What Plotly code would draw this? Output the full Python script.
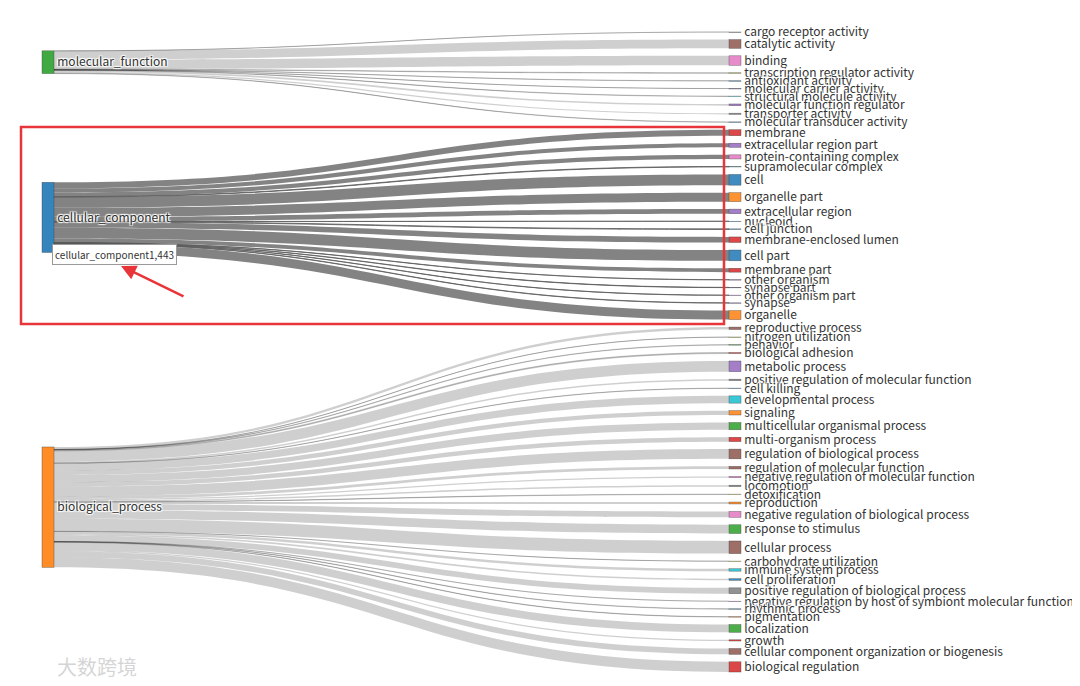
import plotly.graph_objects as go

# ---------------- data ----------------
roots = ["molecular_function", "cellular_component", "biological_process"]
root_colors = ["#2ca02c", "#1f77b4", "#ff7f0e"]

mf_terms = ["cargo receptor activity", "catalytic activity", "binding",
            "transcription regulator activity", "antioxidant activity",
            "molecular carrier activity", "structural molecule activity",
            "molecular function regulator", "transporter activity",
            "molecular transducer activity"]
mf_values = [2, 180, 195, 10, 5, 2, 8, 35, 25, 6]
mf_colors = ["#7f7f7f", "#8c564b", "#e377c2", "#bcbd22", "#1f77b4",
             "#9467bd", "#17becf", "#9467bd", "#7f7f7f", "#1f77b4"]

cc_terms = ["membrane", "extracellular region part", "protein-containing complex",
            "supramolecular complex", "cell", "organelle part", "extracellular region",
            "nucleoid", "cell junction", "membrane-enclosed lumen", "cell part",
            "membrane part", "other organism", "synapse part", "other organism part",
            "synapse", "organelle"]
cc_values = [125, 85, 85, 10, 221, 185, 95, 3, 12, 115, 222, 80, 4, 6, 4, 6, 185]
cc_colors = ["#d62728", "#9467bd", "#e377c2", "#17becf", "#1f77b4", "#ff7f0e",
             "#9467bd", "#1f77b4", "#1f77b4", "#d62728", "#1f77b4", "#d62728",
             "#9467bd", "#9467bd", "#9467bd", "#9467bd", "#ff7f0e"]

bp_terms = ["reproductive process", "nitrogen utilization", "behavior",
            "biological adhesion", "metabolic process",
            "positive regulation of molecular function", "cell killing",
            "developmental process", "signaling", "multicellular organismal process",
            "multi-organism process", "regulation of biological process",
            "regulation of molecular function", "negative regulation of molecular function",
            "locomotion", "detoxification", "reproduction",
            "negative regulation of biological process", "response to stimulus",
            "cellular process", "carbohydrate utilization", "immune system process",
            "cell proliferation", "positive regulation of biological process",
            "negative regulation by host of symbiont molecular function",
            "rhythmic process", "pigmentation", "localization", "growth",
            "cellular component organization or biogenesis", "biological regulation"]
bp_values = [50, 3, 8, 20, 220, 30, 5, 150, 90, 150, 90, 200, 55, 25, 30, 8, 40,
             120, 180, 260, 3, 50, 35, 120, 2, 8, 8, 160, 25, 120, 210]
bp_colors = ["#8c564b", "#bcbd22", "#2ca02c", "#d62728", "#9467bd", "#7f7f7f",
             "#1f77b4", "#17becf", "#ff7f0e", "#2ca02c", "#d62728", "#8c564b",
             "#8c564b", "#e377c2", "#7f7f7f", "#bcbd22", "#ff7f0e", "#e377c2",
             "#2ca02c", "#8c564b", "#bcbd22", "#17becf", "#1f77b4", "#7f7f7f",
             "#9467bd", "#1f77b4", "#ff7f0e", "#2ca02c", "#d62728", "#8c564b",
             "#d62728"]

highlight_root = "cellular_component"
tooltip_text = "cellular_component1,443"
watermark_text = "大数跨境"


def rgba(hex_color, a):
    h = hex_color.lstrip("#")
    r, g, b = int(h[0:2], 16), int(h[2:4], 16), int(h[4:6], 16)
    return f"rgba({r},{g},{b},{a})"


# ---------------- geometry (page pixels; page has an 8px body margin) ----------------
W, H = 1080, 686
OFF = 8
TOP, BOT = 32, 672            # vertical extent of the node columns
PAD = 7.5                     # gap between nodes
LEFT_CX, RIGHT_CX = 48, 735   # node centres
THICK = 12

groups = [(mf_terms, mf_values, mf_colors),
          (cc_terms, cc_values, cc_colors),
          (bp_terms, bp_values, bp_colors)]

all_vals = mf_values + cc_values + bp_values
n_terms = len(all_vals)
span = BOT - TOP
ky = (span - (n_terms - 1) * PAD) / sum(all_vals)

labels, colors, node_x, node_y = [], [], [], []
sources, targets, values, link_colors = [], [], [], []

# roots first
for r, c in zip(roots, root_colors):
    labels.append(r)
    colors.append(rgba(c, 0.9))
    node_x.append((LEFT_CX - OFF) / W)
    node_y.append(0.5)  # placeholder, set below

cum, k = 0.0, 0
for ri, (terms, vals, cols) in enumerate(groups):
    wsum = 0.0
    for t, v, c in zip(terms, vals, cols):
        centre_px = k * PAD + ky * (cum + v / 2)
        wsum += centre_px * v
        labels.append(t)
        colors.append(rgba(c, 0.85))
        node_x.append((RIGHT_CX - OFF) / W)
        node_y.append(centre_px / span)
        sources.append(ri)
        targets.append(len(labels) - 1)
        values.append(v)
        link_colors.append("rgba(90,90,90,0.75)" if roots[ri] == highlight_root
                           else "rgba(0,0,0,0.19)")
        cum += v
        k += 1
    node_y[ri] = (wsum / sum(vals)) / span

# invisible helper node so that the term column is not the last layer
labels.append("")
colors.append("rgba(0,0,0,0)")
node_x.append(0.998)
node_y.append(0.999)
sources.append(len(labels) - 2)
targets.append(len(labels) - 1)
values.append(0.001)
link_colors.append("rgba(0,0,0,0)")

fig = go.Figure(go.Sankey(
    arrangement="fixed",
    domain=dict(x=[0, 1], y=[1 - (BOT - OFF) / H, 1 - (TOP - OFF) / H]),
    node=dict(label=labels, color=colors, pad=PAD, thickness=THICK, align="left",
              x=node_x, y=node_y,
              line=dict(color="rgba(60,60,60,0.7)", width=0.5)),
    link=dict(source=sources, target=targets, value=values, color=link_colors),
    textfont=dict(family="Noto Sans CJK SC", size=12, color="#333333"),
    hoverinfo="none",
))


def px(xp):
    return (xp - OFF) / W


def py(yp):
    return 1 - (yp - OFF) / H


fig.update_layout(
    width=W, height=H,
    margin=dict(l=0, r=0, t=0, b=0),
    paper_bgcolor="white", plot_bgcolor="white",
    font=dict(family="Noto Sans CJK SC", size=12, color="#333333"),
    shapes=[dict(type="rect", xref="paper", yref="paper",
                 x0=px(21), x1=px(724), y0=py(324), y1=py(127),
                 line=dict(color="#e8353a", width=2.5))],
    annotations=[
        dict(xref="paper", yref="paper", x=px(114), y=py(254),
             xanchor="center", yanchor="middle",
             text=tooltip_text, showarrow=False,
             font=dict(family="Noto Sans CJK SC", size=10, color="#333333"),
             bgcolor="white", bordercolor="#999999", borderwidth=1, borderpad=2),
        dict(xref="paper", yref="paper", x=px(121), y=py(266),
             ax=64, ay=31, text="", showarrow=True, arrowhead=2,
             arrowsize=1.2, arrowwidth=2.5, arrowcolor="#e8353a"),
        dict(xref="paper", yref="paper", x=px(97), y=py(666),
             xanchor="center", yanchor="middle",
             text=watermark_text, showarrow=False,
             font=dict(family="Noto Sans CJK SC", size=20, color="rgba(185,185,185,0.6)")),
    ],
)

fig.write_html("out.html")
